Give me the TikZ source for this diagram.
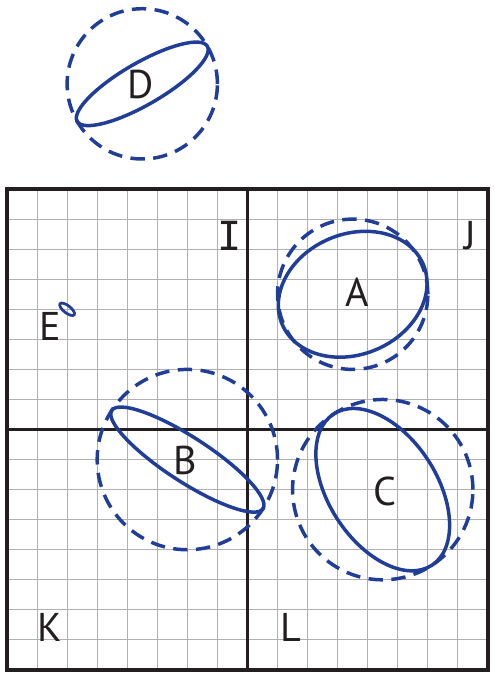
\documentclass[tikz,border=0pt]{standalone}
\usepackage{fontspec}
\setmainfont{PT Sans}
\newfontfamily\slabI{DejaVu Sans Mono}
\definecolor{sphereblue}{RGB}{32,62,152}
\definecolor{gridgray}{RGB}{176,176,176}
\definecolor{inkblack}{RGB}{35,31,32}

\begin{document}
\begin{tikzpicture}[x=0.5cm, y=0.5cm,
  gridline/.style={draw=gridgray, line width=0.5pt},
  axisline/.style={draw=inkblack, line width=1.4pt},
  outline/.style={draw=sphereblue, line width=1.65pt, dash pattern=on 6.8pt off 4pt},
  disk/.style={draw=sphereblue, line width=1.65pt},
  letter/.style={font=\fontsize{19}{19}\selectfont, text=inkblack, inner sep=0pt}]
  \useasboundingbox (-0.233,-0.233) rectangle (16.2,22.29);
  % grid and quadrants
  \draw[gridline, step=1] (0,0) grid (16,16);
  \draw[axisline] (8,0) -- (8,16);
  \draw[axisline] (0,8) -- (16,8);
  \draw[axisline, line width=1.6pt] (0,0) rectangle (16,16);
  % spheres
  \draw[outline] (4.5,19.5) circle (2.5);
  \draw[outline] (11.5,12.5) circle (2.5);
  \draw[outline] (6,7) circle (3);
  \draw[outline] (12.5,6) circle (3);
  % disks
  \draw[disk, rotate around={30:(4.5,19.5)}] (4.5,19.5) ellipse (2.5 and 0.7);
  \draw[disk, rotate around={23:(11.5,12.5)}] (11.5,12.5) ellipse (2.55 and 2.0);
  \draw[disk, rotate around={-33:(6,7)}] (6,7) ellipse (3 and 0.74);
  \draw[disk, rotate around={-57:(12.5,6)}] (12.5,6) ellipse (3 and 1.8);
  \draw[disk, line width=1.3pt, rotate around={-38:(2,12)}] (2,12) ellipse (0.3 and 0.12);
  % labels
  \node[letter] (lblD) at (4.43,19.48) {D};
  \node[letter] (lblA) at (11.66,12.56) {A};
  \node[letter] (lblB) at (5.92,6.97) {B};
  \node[letter] (lblC) at (12.57,5.95) {C};
  \node[letter] (lblE) at (1.45,11.44) {E};
  \node[letter, font=\slabI\fontsize{19}{19}\selectfont] (lblI) at (7.40,14.44) {I};
  \node[letter] (lblJ) at (15.42,14.44) {J};
  \node[letter] (lblK) at (1.43,1.41) {K};
  \node[letter] (lblL) at (9.45,1.41) {L};
\end{tikzpicture}
\end{document}
